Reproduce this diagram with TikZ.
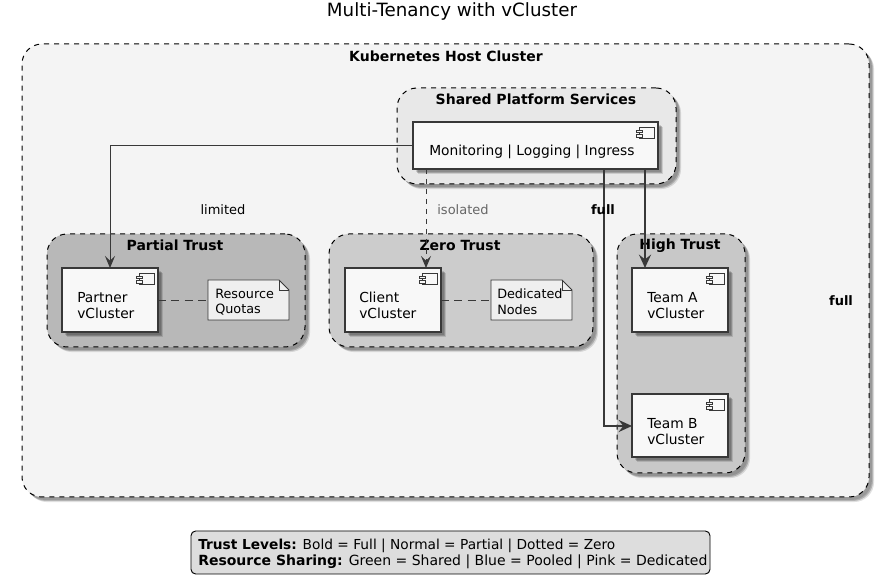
\documentclass[tikz,border=0pt]{standalone}
\usepackage{fontspec}
\setmainfont{DejaVu Sans}
\usetikzlibrary{arrows.meta,shadows,calc}
\definecolor{edgec}{HTML}{383838}
\definecolor{hostc}{HTML}{F4F4F4}
\definecolor{sharedc}{HTML}{E8E8E8}
\definecolor{partialc}{HTML}{B8B8B8}
\definecolor{zeroc}{HTML}{CCCCCC}
\definecolor{highc}{HTML}{C8C8C8}
\definecolor{compc}{HTML}{F8F8F8}
\definecolor{notec}{HTML}{EFEFEF}
\definecolor{legc}{HTML}{DDDDDD}
\tikzset{
  softshadow/.style={
    general shadow={shadow xshift=2.2pt,shadow yshift=-2.2pt,fill=black,opacity=.14},
    general shadow={shadow xshift=3pt,shadow yshift=-3pt,fill=black,opacity=.2},
    general shadow={shadow xshift=3.8pt,shadow yshift=-3.8pt,fill=black,opacity=.12}},
  boxat/.style n args={4}{minimum width=(#3-#1)*0.75pt,minimum height=(#4-#2)*0.75pt,
    at={({(#1+#3)/2},{(#2+#4)/2})},inner sep=0pt,outer sep=0pt},
  cluster/.style={draw=black,line width=.75pt,dash pattern=on 3.75pt off 3.75pt,rounded corners=15pt,softshadow},
  clustertitle/.style={font=\fontsize{10.5}{12}\selectfont\bfseries,inner sep=0pt,anchor=center},
  comp/.style={draw=edgec,fill=compc,line width=1pt,softshadow},
  comptext/.style={font=\fontsize{10.35}{12.1}\selectfont,align=left,anchor=west,inner sep=0pt},
  notebox/.style={inner sep=0pt,font=\fontsize{9.6}{11.7}\selectfont,align=left},
  link/.style={edgec,line width=.7pt,-{Stealth[length=9pt,width=7.5pt,inset=3.5pt]}},
  boldlink/.style={edgec,line width=1.9pt,-{Stealth[length=10pt,width=9pt,inset=3.5pt]}},
  elabel/.style={font=\fontsize{9.75}{12}\selectfont,inner sep=0pt},
}
\newcommand{\compicon}[1]{%
  \begin{scope}[shift={(#1.north east)}]
    \draw[edgec,line width=.7pt,fill=compc] (-19,5) rectangle (-4,16);
    \draw[edgec,line width=.7pt,fill=compc] (-22,8) rectangle (-16,10.5);
    \draw[edgec,line width=.7pt,fill=compc] (-22,12.5) rectangle (-16,15);
  \end{scope}}
\newcommand{\notefold}[1]{%
  \fill[notec] (#1.south west) -- (#1.north west) -- ($(#1.north east)+(-10,0)$) -- ($(#1.north east)+(0,10)$) -- (#1.south east) -- cycle;
  \draw[edgec,line width=.6pt] (#1.south west) -- (#1.north west) -- ($(#1.north east)+(-10,0)$) -- ($(#1.north east)+(0,10)$) -- (#1.south east) -- cycle;
  \draw[edgec,line width=.6pt] ($(#1.north east)+(-10,0)$) -- ($(#1.north east)+(-10,10)$) -- ($(#1.north east)+(0,10)$);}
\begin{document}
\begin{tikzpicture}[x=0.75pt,y=-0.75pt]
\useasboundingbox[fill=white] (0,0) rectangle (879,584);

\node[font=\fontsize{13.7}{16}\selectfont,inner sep=0pt] (title) at (452,11.5) {Multi-Tenancy with vCluster};

\node[cluster,fill=hostc,boxat={22}{44}{869}{497}] (host) {};
\node[clustertitle] (hosttitle) at (446,56) {Kubernetes Host Cluster};

\node[cluster,fill=sharedc,boxat={397}{88}{676}{184}] (shared) {};
\node[clustertitle] (sharedtitle) at (536,99) {Shared Platform Services};
\node[cluster,fill=partialc,boxat={47}{234}{305}{347}] (partial) {};
\node[clustertitle] (partialtitle) at (175,245.5) {Partial Trust};
\node[cluster,fill=zeroc,boxat={329}{234}{593}{347}] (zero) {};
\node[clustertitle] (zerotitle) at (460,245.5) {Zero Trust};
\node[cluster,fill=highc,boxat={617}{234}{745}{473}] (high) {};
\node[clustertitle] (hightitle) at (680,245.5) {High Trust};

\node[comp,boxat={413}{122}{658}{169}] (mon) {};
\node[comp,boxat={62}{268}{158}{332}] (partner) {};
\node[comp,boxat={345}{268}{441}{332}] (client) {};
\node[comp,boxat={632}{268}{728}{332}] (teama) {};
\node[comp,boxat={632}{394}{728}{457}] (teamb) {};
\compicon{mon}\compicon{partner}\compicon{client}\compicon{teama}\compicon{teamb}
\node[comptext] (montext) at (429,152) {Monitoring | Logging | Ingress};
\node[comptext] (partnertext) at (77,305.5) {Partner\\vCluster};
\node[comptext] (clienttext) at (359,305.5) {Client\\vCluster};
\node[comptext] (teamatext) at (647,305.5) {Team A\\vCluster};
\node[comptext] (teambtext) at (647,431.5) {Team B\\vCluster};

\node[boxat={208}{280}{289}{320}] (quota) {};
\node[boxat={491}{280}{572}{320}] (ded) {};
\notefold{quota}\notefold{ded}
\node[notebox,anchor=west] (quotatext) at (215,302) {Resource\\Quotas};
\node[notebox,anchor=west] (dedtext) at (497,302) {Dedicated\\Nodes};

\draw[edgec,line width=.6pt,dash pattern=on 6pt off 4pt] (partner.east) -- (quota.west);
\draw[edgec,line width=.6pt,dash pattern=on 6pt off 4pt] (client.east) -- (ded.west);

\draw[link] (mon.west) -| (partner.north);
\draw[link,dash pattern=on 3.75pt off 3.75pt] ($(mon.south west)+(13,0)$) -- ($(client.north west)+(81,0)$);
\draw[boldlink] ($(mon.south east)+(-54,0)$) |- ($(teamb.north west)+(0,32)$);
\draw[boldlink] ($(mon.south east)+(-13,0)$) -- ($(teama.north west)+(13,0)$);

\node[elabel] (limited) at (223,210) {limited};
\node[elabel,text=black!60] (isolated) at (463,210) {isolated};
\node[elabel,font=\fontsize{9.75}{12}\selectfont\bfseries] (full1) at (603,210) {full};
\node[elabel,font=\fontsize{9.75}{12}\selectfont\bfseries] (full2) at (841,301) {full};

\node[draw=black,fill=legc,rounded corners=3.5pt,line width=.7pt,boxat={191}{531}{710}{574}] (legend) {};
\node[inner sep=0pt,anchor=west,align=left,font=\fontsize{10.5}{12.1}\selectfont] (legendtext) at (198,554) {{\fontsize{10.3}{12.1}\selectfont\textbf{Trust Levels:} Bold = Full | Normal = Partial | Dotted = Zero}\\\textbf{Resource Sharing:} Green = Shared | Blue = Pooled | Pink = Dedicated};
\end{tikzpicture}
\end{document}
